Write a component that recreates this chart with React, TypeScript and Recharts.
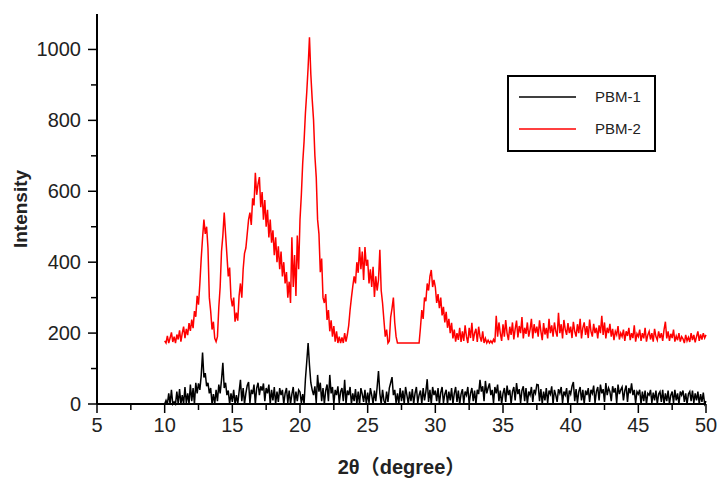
import React from 'react';
import { LineChart, Line, XAxis, YAxis, Legend } from 'recharts';

// 2θ sampled every 0.1° from 10 to 50
const twoTheta = Array.from({ length: 401 }, (_, i) => Math.round((10 + i * 0.1) * 10) / 10);

const pbm1 = [
  0, 10, 0, 30, 0, 40, 0, 6, 0, 35,
  0, 42, 0, 25, 0, 48, 3, 30, 0, 55,
  8, 45, 0, 60, 30, 58, 40, 80, 145, 75,
  87, 50, 60, 30, 45, 0, 28, 0, 40, 8,
  55, 30, 68, 116, 45, 60, 25, 38, 0, 30,
  6, 40, 0, 25, 0, 35, 68, 8, 45, 0,
  30, 52, 62, 3, 40, 28, 55, 0, 45, 60,
  25, 50, 38, 58, 8, 45, 30, 55, 0, 40,
  10, 48, 0, 35, 6, 45, 25, 40, 0, 30,
  45, 3, 38, 0, 28, 48, 0, 35, 8, 40,
  34, 3, 28, 0, 70, 120, 172, 110, 60, 40,
  25, 50, 3, 82, 35, 60, 8, 45, 0, 38,
  55, 8, 82, 30, 48, 0, 40, 25, 50, 3,
  35, 45, 8, 68, 0, 38, 25, 48, 0, 30,
  8, 42, 0, 35, 0, 45, 28, 6, 40, 0,
  32, 3, 45, 25, 0, 38, 8, 48, 93, 30,
  0, 40, 10, 0, 35, 6, 45, 60, 76, 25,
  40, 3, 30, 0, 45, 8, 38, 0, 48, 25,
  0, 35, 8, 42, 0, 30, 48, 3, 25, 38,
  0, 45, 10, 35, 70, 6, 40, 0, 48, 25,
  38, 8, 45, 0, 32, 48, 3, 28, 40, 0,
  35, 10, 45, 0, 30, 48, 6, 38, 0, 28,
  42, 3, 35, 25, 48, 0, 30, 45, 8, 38,
  0, 40, 28, 68, 35, 50, 8, 65, 30, 45,
  58, 25, 40, 3, 48, 30, 55, 8, 38, 0,
  30, 45, 6, 52, 25, 40, 0, 35, 48, 10,
  59, 28, 42, 3, 38, 50, 8, 45, 0, 35,
  25, 48, 6, 40, 30, 55, 54, 8, 42, 0,
  35, 10, 45, 3, 38, 28, 50, 0, 40, 25,
  6, 42, 30, 48, 3, 35, 25, 45, 0, 38,
  28, 50, 62, 8, 42, 3, 35, 48, 10, 40,
  0, 38, 25, 45, 6, 40, 30, 52, 3, 35,
  48, 10, 55, 30, 42, 6, 59, 25, 45, 35,
  8, 50, 32, 45, 3, 55, 28, 40, 48, 10,
  38, 52, 6, 45, 30, 58, 25, 40, 3, 35,
  28, 40, 0, 35, 8, 38, 0, 30, 25, 40,
  3, 32, 10, 38, 0, 28, 35, 6, 40, 0,
  30, 8, 38, 0, 25, 35, 3, 40, 10, 30,
  0, 35, 25, 38, 6, 30, 0, 28, 35, 8,
  38, 3, 30, 10, 35, 0, 28, 6, 32, 0,
  8,
];

const pbm2 = [
  178, 172, 192, 172, 186, 202, 175, 190, 172, 196,
  182, 208, 176, 200, 218, 186, 212, 194, 228, 206,
  238, 214, 262, 246, 305, 280, 340, 410, 468, 520,
  480, 500, 440, 300, 262, 210, 232, 185, 176, 190,
  272, 330, 430, 475, 540, 480, 420, 360, 385, 300,
  275, 300, 232, 258, 235, 305, 340, 300, 380, 425,
  440, 480, 520, 540, 505, 580, 560, 652, 590, 620,
  640, 555, 598, 520, 575, 500, 548, 470, 520, 455,
  490, 420, 470, 400, 445, 380, 430, 360, 400, 340,
  372, 300, 345, 285, 470, 330, 420, 305, 475, 380,
  520, 590, 680, 740, 820, 880, 950, 1034, 930, 860,
  802, 700, 640, 520, 480, 372, 410, 300, 285, 310,
  237, 265, 205, 236, 190, 220, 176, 205, 172, 190,
  172, 188, 172, 200, 176, 196, 222, 265, 300, 332,
  360, 340, 400, 370, 443, 380, 430, 350, 443, 390,
  407, 340, 380, 330, 387, 302, 360, 320, 350, 435,
  320, 285, 237, 190, 210, 172, 178, 245, 270, 300,
  230, 190, 172, 172, 172, 172, 172, 172, 172, 172,
  172, 172, 172, 172, 172, 172, 172, 172, 172, 215,
  265, 240, 300, 290, 340, 320, 360, 378, 330, 350,
  330, 285, 310, 270, 300, 250, 274, 230, 260, 215,
  240, 200, 229, 185, 210, 176, 200, 181, 215, 175,
  205, 178, 222, 190, 172, 215, 186, 229, 178, 200,
  212, 175, 218, 190, 176, 205, 172, 185, 172, 180,
  172, 178, 172, 182, 174, 249, 190, 230, 200, 178,
  225, 190, 237, 200, 180, 218, 195, 230, 182, 212,
  235, 188, 220, 200, 245, 185, 215, 198, 230, 190,
  210, 240, 185, 225, 200, 218, 190, 236, 205, 180,
  228, 196, 215, 185, 240, 200, 222, 190, 230, 205,
  190, 257, 200, 225, 185, 237, 210, 195, 228, 200,
  218, 186, 232, 205, 190, 225, 200, 240, 185, 215,
  230, 195, 220, 186, 238, 205, 190, 226, 200, 215,
  185, 222, 200, 249, 195, 230, 185, 215, 200, 226,
  190, 212, 180, 205, 195, 220, 182, 200, 190, 210,
  178, 205, 192, 215, 180, 200, 186, 222, 176, 198,
  190, 210, 178, 200, 185, 215, 176, 195, 205, 182,
  200, 176, 212, 190, 180, 205, 186, 200, 178, 210,
  232, 185, 205, 178, 198, 186, 210, 176, 192, 180,
  200, 176, 190, 184, 172, 195, 178, 188, 175, 200,
  180, 195, 174, 190, 205, 178, 196, 182, 200, 186,
  195,
];

const xTicks = [5, 7.5, 10, 12.5, 15, 17.5, 20, 22.5, 25, 27.5, 30, 32.5, 35, 37.5, 40, 42.5, 45, 47.5, 50];
const yTicks = [0, 100, 200, 300, 400, 500, 600, 700, 800, 900, 1000];

const seriesNames = ['PBM-1', 'PBM-2'];
const seriesColors = ['#000000', '#ff0000'];

const data = twoTheta.map((t, i) => ({ t, pbm1: pbm1[i], pbm2: pbm2[i] }));

const FONT = '"Liberation Sans", Arial, "Noto Sans CJK SC", sans-serif';

const XTick = ({ x, y, payload }: any) => {
  const major = payload.value % 5 === 0;
  return (
    <g>
      <line x1={x} x2={x} y1={y} y2={y + (major ? 9 : 6)} stroke="#000" strokeWidth={1.5} />
      {major && (
        <text x={x} y={y + 28} textAnchor="middle" fontSize={20} fill="#222" fontFamily={FONT}>
          {payload.value}
        </text>
      )}
    </g>
  );
};

const YTick = ({ x, y, payload }: any) => {
  const major = payload.value % 200 === 0;
  return (
    <g>
      <line x1={x - (major ? 9 : 6)} x2={x} y1={y} y2={y} stroke="#000" strokeWidth={1.5} />
      {major && (
        <text x={x - 16} y={y + 7} textAnchor="end" fontSize={20} fill="#222" fontFamily={FONT}>
          {payload.value}
        </text>
      )}
    </g>
  );
};

const LegendBox = () => (
  <svg width={149} height={77} style={{ display: 'block' }}>
    <rect x={1} y={1} width={147} height={75} fill="#fff" stroke="#000" strokeWidth={2} />
    {seriesNames.map((name, i) => (
      <g key={name}>
        <line x1={12} x2={69} y1={22 + i * 32} y2={22 + i * 32} stroke={seriesColors[i]} strokeWidth={1.5} />
        <text x={88} y={27 + i * 32} fontSize={15} fill="#222" fontFamily={FONT}>
          {name}
        </text>
      </g>
    ))}
  </svg>
);

export default function App() {
  return (
    <div style={{ position: 'absolute', left: 0, top: 0, background: '#fff' }}>
      <LineChart width={728} height={488} data={data} margin={{ top: 14, right: 22, left: 0, bottom: 0 }}>
        <XAxis
          dataKey="t"
          type="number"
          domain={[5, 50]}
          ticks={xTicks}
          interval={0}
          height={84}
          tickSize={0}
          tickMargin={0}
          tick={<XTick />}
          axisLine={{ stroke: '#000', strokeWidth: 2 }}
          tickLine={false}
          label={{ value: '2θ（degree）', position: 'insideBottom', offset: 14, fontSize: 20, fontWeight: 'bold', fill: '#222', fontFamily: FONT }}
        />
        <YAxis
          type="number"
          domain={[0, 1100]}
          ticks={yTicks}
          interval={0}
          width={97}
          tickSize={0}
          tickMargin={0}
          tick={<YTick />}
          axisLine={{ stroke: '#000', strokeWidth: 2 }}
          tickLine={false}
          label={{ value: 'Intensity', angle: -90, position: 'center', dx: -28, fontSize: 19, fontWeight: 'bold', fill: '#222', fontFamily: FONT }}
        />
        <Legend
          layout="vertical"
          align="center"
          verticalAlign="middle"
          content={<LegendBox />}
          wrapperStyle={{ left: 507, top: 75, width: 149, height: 77 }}
        />
        <Line type="linear" dataKey="pbm1" name={seriesNames[0]} stroke={seriesColors[0]} strokeWidth={1.5} dot={false} isAnimationActive={false} />
        <Line type="linear" dataKey="pbm2" name={seriesNames[1]} stroke={seriesColors[1]} strokeWidth={1.5} dot={false} isAnimationActive={false} />
      </LineChart>
    </div>
  );
}
